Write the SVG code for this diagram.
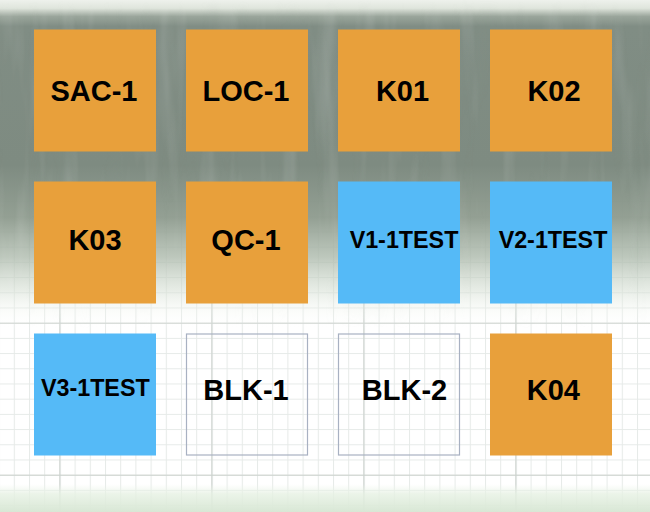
<svg xmlns="http://www.w3.org/2000/svg" width="650" height="512" viewBox="0 0 650 512">
  <style>
    .o { fill: #E8A03B; }
    .b { fill: #55BAF7; }
    .w { fill: none; stroke: #A8B1C2; stroke-width: 1.2; }
    .t { font-family: "Liberation Sans", Arial, sans-serif; font-weight: bold; font-size: 29px; fill: #000; text-anchor: middle; }
    .s { font-size: 23.3px; }
  </style>
  <defs>
    <pattern id="minor" patternUnits="userSpaceOnUse" x="13.8" y="3.5" width="15.2" height="15.2">
      <path d="M0 0.5H15.2M0.5 0V15.2" fill="none" stroke="#E6EAE8" stroke-width="1"/>
    </pattern>
    <pattern id="major" patternUnits="userSpaceOnUse" x="59.4" y="18.7" width="152" height="152">
      <path d="M0 0.5H152M0.5 0V152" fill="none" stroke="#CBD1CD" stroke-width="1.2"/>
    </pattern>
    <linearGradient id="dark" x1="0" y1="0" x2="0" y2="1">
      <stop offset="0" stop-color="#eef1ec" stop-opacity="1"/>
      <stop offset="0.025" stop-color="#dfe5dc" stop-opacity="1"/>
      <stop offset="0.05" stop-color="#9aa59b" stop-opacity="1"/>
      <stop offset="0.08" stop-color="#808d84" stop-opacity="1"/>
      <stop offset="0.5" stop-color="#7e8b81" stop-opacity="1"/>
      <stop offset="0.66" stop-color="#8e9b8e" stop-opacity="0.95"/>
      <stop offset="0.78" stop-color="#adbaac" stop-opacity="0.8"/>
      <stop offset="0.88" stop-color="#d4ded2" stop-opacity="0.55"/>
      <stop offset="0.95" stop-color="#f2f6f0" stop-opacity="0.25"/>
      <stop offset="1" stop-color="#ffffff" stop-opacity="0"/>
    </linearGradient>
    <linearGradient id="fade" x1="0" y1="0" x2="0" y2="1">
      <stop offset="0" stop-color="#fff" stop-opacity="0"/>
      <stop offset="0.05" stop-color="#fff" stop-opacity="1"/>
      <stop offset="0.7" stop-color="#fff" stop-opacity="1"/>
      <stop offset="1" stop-color="#fff" stop-opacity="0"/>
    </linearGradient>
    <mask id="topmask" maskUnits="userSpaceOnUse" x="0" y="0" width="650" height="330">
      <rect x="0" y="0" width="650" height="330" fill="url(#fade)"/>
    </mask>
    <linearGradient id="bottom" x1="0" y1="0" x2="0" y2="1">
      <stop offset="0" stop-color="#eef6ec" stop-opacity="0"/>
      <stop offset="0.35" stop-color="#e6f1e3" stop-opacity="0.8"/>
      <stop offset="1" stop-color="#d8e7d5" stop-opacity="1"/>
    </linearGradient>
    <filter id="streak" x="0" y="0" width="100%" height="100%">
      <feTurbulence type="fractalNoise" baseFrequency="0.05 0.006" numOctaves="3" seed="7"/>
      <feColorMatrix type="matrix" values="0 0 0 0 1  0 0 0 0 1  0 0 0 0 1  1.4 0 0 0 -0.7"/>
    </filter>
    <filter id="streakd" x="0" y="0" width="100%" height="100%">
      <feTurbulence type="fractalNoise" baseFrequency="0.04 0.005" numOctaves="3" seed="19"/>
      <feColorMatrix type="matrix" values="0 0 0 0 0.3  0 0 0 0 0.35  0 0 0 0 0.32  1.4 0 0 0 -0.72"/>
    </filter>
  </defs>

  <g id="background">
    <rect width="650" height="512" fill="#ffffff"/>
    <rect width="650" height="512" fill="url(#minor)"/>
    <rect width="650" height="512" fill="url(#major)"/>
    <rect x="0" y="0" width="650" height="330" fill="url(#dark)"/>
    <g mask="url(#topmask)">
      <rect x="0" y="0" width="650" height="330" filter="url(#streak)" opacity="0.22"/>
      <rect x="0" y="0" width="650" height="330" filter="url(#streakd)" opacity="0.2"/>
    </g>
    <rect x="0" y="484" width="650" height="28" fill="url(#bottom)"/>
  </g>

  <g id="connectors"></g>

  <g id="SAC-1"><rect class="o" x="34" y="29.5" width="122" height="122"/><text class="t" x="94" y="100.5">SAC-1</text></g>
  <g id="LOC-1"><rect class="o" x="186" y="29.5" width="122" height="122"/><text class="t" x="246" y="100.5">LOC-1</text></g>
  <g id="K01"><rect class="o" x="338" y="29.5" width="122" height="122"/><text class="t" x="402.5" y="100.5">K01</text></g>
  <g id="K02"><rect class="o" x="490" y="29.5" width="122" height="122"/><text class="t" x="554" y="100.5">K02</text></g>

  <g id="K03"><rect class="o" x="34" y="181.5" width="122" height="122"/><text class="t" x="95" y="249.5">K03</text></g>
  <g id="QC-1"><rect class="o" x="186" y="181.5" width="122" height="122"/><text class="t" x="246" y="249.5">QC-1</text></g>
  <g id="V1-1TEST"><rect class="b" x="338" y="181.5" width="122" height="122"/><text class="t s" x="404" y="247.5">V1-1TEST</text></g>
  <g id="V2-1TEST"><rect class="b" x="490" y="181.5" width="122" height="122"/><text class="t s" x="553" y="247.5">V2-1TEST</text></g>

  <g id="V3-1TEST"><rect class="b" x="34" y="333.5" width="122" height="122"/><text class="t s" x="95.3" y="396">V3-1TEST</text></g>
  <g id="BLK-1"><rect class="w" x="186.5" y="334" width="121" height="121"/><text class="t" x="246" y="399.5">BLK-1</text></g>
  <g id="BLK-2"><rect class="w" x="338.5" y="334" width="121" height="121"/><text class="t" x="404.5" y="399.5">BLK-2</text></g>
  <g id="K04"><rect class="o" x="490" y="333.5" width="122" height="122"/><text class="t" x="553.3" y="399.5">K04</text></g>
</svg>
